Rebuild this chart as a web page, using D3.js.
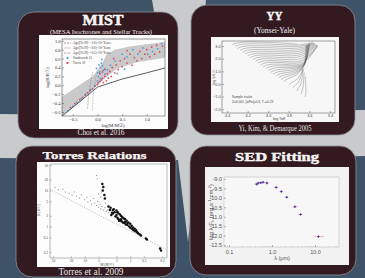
<!DOCTYPE html>
<html>
<head>
<meta charset="utf-8">
<script src="https://cdn.jsdelivr.net/npm/d3@7"></script>
<style>
  html, body { margin: 0; padding: 0; background: #3e5367; }
  svg { display: block; }
</style>
</head>
<body>
<script>
// ---- MIST (Choi et al. 2016) ----
var mistXTicks = [-0.5, 0.0, 0.5, 1.0];
var mistYTicks = [-0.6, -0.4, -0.2, 0.0, 0.2, 0.4, 0.6, 0.8, 1.0];
var mistBand = [[-0.72,-0.26],[-0.4,-0.02],[-0.1,0.2],[0.0,0.34],[0.1,0.5],[0.18,0.68],[0.35,0.8],[0.65,0.87],[1.0,0.92],[1.37,0.97],
                [1.37,0.62],[0.8,0.52],[0.4,0.38],[0.15,0.16],[-0.05,-0.05],[-0.4,-0.42],[-0.72,-0.69]];
var mistZams = [[-0.72,-0.69],[-0.35,-0.36],[0.0,-0.04],[0.5,0.14],[1.0,0.28],[1.37,0.39]];
var mistIso = [
  [[-0.2,-0.52],[-0.18,-0.2],[-0.14,0.05],[-0.1,0.3]],
  [[-0.1,-0.56],[-0.09,-0.25],[-0.06,0.0],[-0.03,0.22]]
];
var mistSouthworth = [[-0.6,-0.57],[-0.5,-0.47],[-0.42,-0.38],[-0.33,-0.3],[-0.24,-0.2],[-0.14,-0.1],[-0.06,0.0],[0.0,0.1],
  [0.02,0.2],[0.04,0.3],[0.06,0.4],[0.08,0.5],[0.1,0.44],[0.03,0.46],[0.12,0.34],[0.0,0.28],[0.06,0.15],[0.15,0.25],
  [0.2,0.35],[0.26,0.45],[0.36,0.55],[0.5,0.7],[0.6,0.64],[0.72,0.8],[0.82,0.7],[0.92,0.84],[1.02,0.7],[1.12,0.76],
  [1.22,0.82],[1.3,0.94],[0.4,0.26],[0.55,0.36],[-0.02,0.38],[0.09,0.58]];
var mistTorres = [[-0.55,-0.5],[-0.46,-0.41],[-0.36,-0.32],[-0.3,-0.27],[-0.25,-0.22],[-0.2,-0.17],[-0.15,-0.12],[-0.1,-0.08],
  [-0.05,-0.02],[0.0,0.02],[0.02,0.06],[0.05,0.09],[0.08,0.12],[0.1,0.16],[0.12,0.06],[0.15,0.2],[0.18,0.1],[0.2,0.26],
  [0.22,0.16],[0.25,0.31],[0.28,0.2],[0.3,0.4],[0.35,0.28],[0.38,0.46],[0.42,0.35],[0.46,0.55],[0.5,0.42],[0.55,0.6],
  [0.6,0.5],[0.66,0.7],[0.7,0.45],[0.75,0.62],[0.8,0.55],[0.86,0.76],[0.9,0.6],[0.96,0.7],[1.0,0.8],[1.06,0.64],
  [1.1,0.86],[1.16,0.7],[1.2,0.9],[1.26,0.75],[1.32,0.88],[0.15,0.36],[0.05,0.26],[0.1,0.3],[0.33,0.6],[0.6,0.78]];
var mistLegend = ["Age([Fe/H]=\u22121.0)=10\u2079 Years", "Age([Fe/H]=+0.0)=10\u2079 Years", "Age([Fe/H]=+0.5)=10\u2079 Years", "Southworth 15", "Torres 10"];

// ---- YY (Yi, Kim & Demarque) ----
var yyXTicks = [4.4, 4.2, 4.0, 3.8, 3.6, 3.4];
var yyYTicks = [-2, -1, 0, 1, 2, 3];
var yyTracks = [
  [[4.35,3.10],[4.29,3.35],[3.95,3.30],[3.72,3.15]],
  [[4.325,2.955],[4.265,3.21],[3.94,3.15],[3.71,3.02],[3.57,3.28]],
  [[4.30,2.81],[4.24,3.06],[3.92,3.00],[3.70,2.90],[3.56,3.25]],
  [[4.275,2.665],[4.215,2.92],[3.91,2.85],[3.695,2.75],[3.555,3.22]],
  [[4.25,2.52],[4.19,2.77],[3.90,2.70],[3.69,2.60],[3.55,3.20]],
  [[4.225,2.375],[4.165,2.63],[3.89,2.55],[3.685,2.45],[3.545,3.17]],
  [[4.20,2.23],[4.14,2.48],[3.88,2.40],[3.68,2.30],[3.54,3.15]],
  [[4.175,2.085],[4.115,2.34],[3.87,2.25],[3.675,2.15],[3.535,3.12]],
  [[4.15,1.94],[4.09,2.19],[3.86,2.10],[3.67,2.00],[3.53,3.10]],
  [[4.125,1.795],[4.065,2.05],[3.85,1.95],[3.665,1.82],[3.525,3.07]],
  [[4.10,1.65],[4.04,1.90],[3.84,1.80],[3.66,1.65],[3.52,3.05]],
  [[4.075,1.505],[4.015,1.76],[3.83,1.68],[3.655,1.52],[3.52,3.02]],
  [[4.05,1.36],[3.99,1.61],[3.82,1.55],[3.65,1.40],[3.52,3.00]],
  [[4.025,1.215],[3.965,1.47],[3.81,1.42],[3.65,1.38],[3.61,2.3],[3.595,3.2]],
  [[4.00,1.07],[3.94,1.32],[3.80,1.30],[3.65,1.35],[3.62,2.20],[3.60,3.20]],
  [[3.975,0.925],[3.92,1.17],[3.79,1.18],[3.65,1.32],[3.615,2.2],[3.605,3.17]],
  [[3.95,0.78],[3.90,1.02],[3.78,1.05],[3.65,1.30],[3.62,2.20],[3.61,3.15]],
  [[3.925,0.635],[3.875,0.88],[3.77,0.92],[3.645,1.3],[3.625,2.15],[3.615,3.12]],
  [[3.90,0.49],[3.85,0.74],[3.76,0.80],[3.64,1.30],[3.63,2.10],[3.62,3.10]],
  [[3.875,0.345],[3.83,0.6],[3.75,0.68],[3.645,1.3],[3.635,2.05],[3.625,3.07]],
  [[3.85,0.20],[3.81,0.45],[3.74,0.55],[3.65,1.30],[3.64,2.00],[3.63,3.05]],
  [[3.80,-0.09],[3.77,0.15],[3.72,0.30],[3.65,1.25]],
  [[3.76,-0.32],[3.74,-0.10],[3.70,0.10],[3.66,1.20]],
  [[3.72,-0.55],[3.71,-0.35],[3.68,-0.10],[3.66,1.10]],
  [[3.68,-0.79],[3.675,-0.60],[3.66,-0.40],[3.65,0.90]],
  [[3.64,-1.02],[3.635,-0.85],[3.63,-0.70],[3.64,0.60]]
];

// ---- Torres relations ----
var torresTicks = [50, 20, 10, 5, 2, 1, 0.5, 0.2];
var torresZams = [[58,10.7],[5,2.1],[1,0.76],[0.16,0.23]];
var torresBig = [[4.1,15],[3.9,12.5],[4.0,10],[3.7,7.5],[3.6,6.0],[3.0,3.6],[2.8,2.9],[2.7,3.3],[2.5,2.4],[2.4,2.9],
  [2.3,3.0],[2.2,2.5],[2.1,1.9],[2.0,2.8],[1.9,1.75],[1.85,2.4],[1.8,1.6],[1.7,2.2],[1.65,1.5],[1.6,2.0],[1.55,1.4],
  [1.5,1.85],[1.45,1.3],[1.4,1.7],[1.35,1.25],[1.3,1.6],[1.25,1.15],[1.2,1.45],[1.15,1.1],[1.1,1.3],[1.05,1.0],
  [1.0,1.2],[0.98,0.92],[0.93,1.05],[0.9,0.86],[0.87,0.95],[0.84,0.8],[0.8,0.88],[0.77,0.75],[0.74,0.8],[0.7,0.7],
  [0.67,0.66],[0.62,0.62],[0.58,0.57],[0.45,0.47],[0.43,0.44],[0.22,0.25],[0.21,0.22],[2.6,2.1],[1.75,1.45],
  [2.0,2.1],[1.6,1.6],[1.3,1.35],[2.4,2.3],[1.9,2.5],[1.15,1.25]];
var torresSmall = [[45,12],[38,10.5],[30,11],[27,9],[22,8.5],[19,7.5],[17,9],[15,7],[13,6.2],[12,7.5],[10,5.5],[9,6.5],
  [8.5,4.8],[7.5,5.2],[7,4.2],[6.5,6],[6,4.5],[5.5,3.8],[5.2,5],[5,3.4],[4.6,4.2],[4.4,3.1],[4.2,3.6],[3.9,2.9],
  [3.6,3.3],[3.4,2.6],[3.2,2.9],[5.5,26],[5.3,21],[5,8],[4.5,6.5],[4.3,9],[3.5,4.5],[3.0,2.4],[2.6,2.1]];

// ---- SED fitting ----
var sedXTicks = [0.1, 1, 10];
var sedYTicks = [-9.0, -9.5, -10.0, -10.5, -11.0, -11.5, -12.0, -12.5];
var sedWave   = [0.44, 0.48, 0.55, 0.62, 0.76, 1.25, 1.65, 2.2, 3.4, 4.6, 12];
var sedWaveLo = [0.39, 0.41, 0.50, 0.56, 0.70, 1.10, 1.50, 2.0, 3.0, 4.1, 9.6];
var sedWaveHi = [0.49, 0.55, 0.60, 0.69, 0.83, 1.40, 1.80, 2.4, 3.9, 5.2, 16];
var sedFlux   = [-9.28, -9.22, -9.20, -9.18, -9.22, -9.45, -9.67, -9.97, -10.47, -10.88, -12.05];

var W = 365, H = 278;
var svg = d3.select("body").append("svg").attr("width", W).attr("height", H);
var defs = svg.append("defs");

// background: slate with a light grey cross behind the panels
svg.append("rect").attr("width", W).attr("height", H).attr("fill", "#3e5367");
svg.append("path")
  .attr("d", "M152,0 L206,0 L196,112 L365,110 L365,156 L196,160 L188,242 L178,160 L0,158 L0,114 L172,116 Z")
  .attr("fill", "#c9cacc");

// panels
var panels = [[18, 12, 160, 126], [191, 5, 164, 130], [16, 146, 160, 131], [190, 146, 166, 129]];
svg.selectAll("rect.panel").data(panels).join("rect")
  .attr("class", "panel")
  .attr("x", d => d[0]).attr("y", d => d[1])
  .attr("width", d => d[2]).attr("height", d => d[3])
  .attr("rx", 16)
  .attr("fill", "#321a20")
  .attr("stroke", "#8e9299")
  .attr("stroke-width", 0.8);

function txt(g, s, x, y, size, o) {
  o = o || {};
  var t = g.append("text").attr("x", x).attr("y", y).text(s)
    .attr("font-size", size)
    .attr("font-family", o.family || "Liberation Serif")
    .attr("font-weight", o.weight || "normal")
    .attr("fill", o.fill || "#f2f2f2")
    .attr("text-anchor", o.anchor || "middle");
  if (o.len) t.attr("textLength", o.len).attr("lengthAdjust", "spacingAndGlyphs");
  if (o.stroke) t.attr("stroke", o.fill || "#fff").attr("stroke-width", o.stroke);
  if (o.rotate) t.attr("transform", "rotate(-90," + x + "," + y + ")");
  return t;
}

function styleAxis(g, size, family, color) {
  g.select(".domain").remove();
  g.selectAll("line").attr("stroke", color).attr("stroke-width", 0.4);
  g.selectAll("text").attr("font-size", size).attr("font-family", family).attr("fill", color);
}

function clip(id, x, y, w, h) {
  defs.append("clipPath").attr("id", id).append("rect").attr("x", x).attr("y", y).attr("width", w).attr("height", h);
  return "url(#" + id + ")";
}

// ================= MIST =================
txt(svg, "MIST", 103, 25, 15.5, {weight: "bold", stroke: 0.5, len: 41});
txt(svg, "(MESA Isochrones and Stellar Tracks)", 101, 34, 6, {len: 102});
txt(svg, "Choi et al. 2016", 101, 135, 8, {len: 47, fill: "#e6e6e6"});

var m = svg.append("g");
m.append("rect").attr("x", 39).attr("y", 35).attr("width", 129).attr("height", 94).attr("fill", "#fcfcfc");
var mx = d3.scaleLinear().domain([-0.72, 1.37]).range([62, 165]);
var my = d3.scaleLinear().domain([-0.69, 1.04]).range([116, 39]);
var mLine = d3.line().x(d => mx(d[0])).y(d => my(d[1]));
var mPlot = m.append("g").attr("clip-path", clip("clipM", 62, 39, 103, 77));
mPlot.append("path").attr("d", mLine(mistBand) + "Z").attr("fill", "#c9c9c9");
mistIso.forEach(function(iso, i) {
  mPlot.append("path").attr("d", mLine(iso)).attr("fill", "none")
    .attr("stroke", "#777").attr("stroke-width", 0.5).attr("stroke-dasharray", i ? "1,1" : "2,1");
});
mPlot.append("path").attr("d", mLine(mistZams)).attr("fill", "none").attr("stroke", "#1a1a1a").attr("stroke-width", 0.7);
mPlot.selectAll("circle.r").data(mistTorres).join("circle").attr("class", "r")
  .attr("cx", d => mx(d[0])).attr("cy", d => my(d[1])).attr("r", 0.9)
  .attr("fill", "#d8334b").attr("fill-opacity", 0.85);
mPlot.selectAll("circle.b").data(mistSouthworth).join("circle").attr("class", "b")
  .attr("cx", d => mx(d[0])).attr("cy", d => my(d[1])).attr("r", 0.9)
  .attr("fill", "#3d93dd").attr("fill-opacity", 0.85);
m.append("rect").attr("x", 62).attr("y", 39).attr("width", 103).attr("height", 77)
  .attr("fill", "none").attr("stroke", "#333").attr("stroke-width", 0.5);
var mxa = m.append("g").attr("transform", "translate(0,116)")
  .call(d3.axisBottom(mx).tickValues(mistXTicks).tickSizeInner(-2).tickSizeOuter(0).tickPadding(2).tickFormat(d3.format(".1f")));
styleAxis(mxa, 4.5, "Liberation Serif", "#333");
var mya = m.append("g").attr("transform", "translate(62,0)")
  .call(d3.axisLeft(my).tickValues(mistYTicks).tickSizeInner(-2).tickSizeOuter(0).tickPadding(1.5).tickFormat(d3.format(".1f")));
styleAxis(mya, 4.5, "Liberation Serif", "#333");
txt(m, "log(M/M\u2609)", 113, 127, 4.8, {fill: "#333"});
txt(m, "log(R/R\u2609)", 49, 78, 4.8, {fill: "#333", rotate: true});
// legend
var legDash = ["2,1", null, "2,0.8,0.6,0.8"];
mistLegend.forEach(function(s, i) {
  var ly = 43 + i * 5;
  if (i < 3) {
    m.append("line").attr("x1", 64).attr("x2", 71).attr("y1", ly).attr("y2", ly)
      .attr("stroke", i == 1 ? "#999" : "#444").attr("stroke-width", 0.5).attr("stroke-dasharray", legDash[i]);
  } else {
    m.append("circle").attr("cx", 67.5).attr("cy", ly).attr("r", 1.1).attr("fill", i == 3 ? "#3d93dd" : "#d8334b");
  }
  txt(m, s, 73, ly + 1.2, 3.2, {anchor: "start", fill: "#333"});
});

// ================= YY =================
txt(svg, "YY", 274.5, 20, 11.5, {weight: "bold", stroke: 0.4, len: 16});
txt(svg, "(Yonsei-Yale)", 274.5, 32.5, 7.5, {len: 41});
txt(svg, "Yi, Kim, & Demarque 2005", 275, 131, 8, {len: 73, fill: "#e6e6e6"});

var y = svg.append("g");
y.append("rect").attr("x", 211).attr("y", 37).attr("width", 128).attr("height", 85).attr("fill", "#f7f7f7");
var yx = d3.scaleLinear().domain([4.45, 3.35]).range([222, 335]);
var yy = d3.scaleLinear().domain([-2.3, 3.4]).range([113, 41]);
var yPlot = y.append("g").attr("clip-path", clip("clipY", 222, 41, 113, 72));
yPlot.selectAll("path.trk").data(yyTracks).join("path").attr("class", "trk")
  .attr("d", d => d3.line().x(p => yx(p[0])).y(p => yy(p[1])).curve(d3.curveBasis)(d))
  .attr("fill", "none").attr("stroke", "#555").attr("stroke-width", 0.4).attr("stroke-opacity", 0.85);
y.append("rect").attr("x", 222).attr("y", 41).attr("width", 113).attr("height", 72)
  .attr("fill", "none").attr("stroke", "#444").attr("stroke-width", 0.5);
var yxa = y.append("g").attr("transform", "translate(0,113)")
  .call(d3.axisBottom(yx).tickValues(yyXTicks).tickSizeInner(-2).tickSizeOuter(0).tickPadding(1.5).tickFormat(d3.format(".1f")));
styleAxis(yxa, 3.8, "Liberation Sans", "#444");
var yya = y.append("g").attr("transform", "translate(222,0)")
  .call(d3.axisLeft(yy).tickValues(yyYTicks).tickSizeInner(-2).tickSizeOuter(0).tickPadding(1.5));
styleAxis(yya, 3.8, "Liberation Sans", "#444");
txt(y, "log Teff", 279, 120, 3.8, {fill: "#444", family: "Liberation Sans"});
txt(y, "log L/L\u2609", 215, 77, 3.8, {fill: "#444", family: "Liberation Sans", rotate: true});
txt(y, "Sample tracks", 232, 98, 3.2, {anchor: "start", fill: "#444", family: "Liberation Sans"});
txt(y, "Z=0.001, [\u03b1/Fe]=0.3, Y\u2080=0.23", 232, 102.5, 3.2, {anchor: "start", fill: "#444", family: "Liberation Sans"});

// ================= Torres =================
txt(svg, "Torres Relations", 94.5, 159, 11, {weight: "bold", stroke: 0.25, len: 104});
txt(svg, "Torres et al. 2009", 91, 274.5, 9.5, {len: 65, fill: "#e6e6e6"});

var t = svg.append("g");
t.append("rect").attr("x", 37).attr("y", 162).attr("width", 133).attr("height", 105).attr("fill", "#fdfdfd");
var tx = d3.scaleLog().domain([58, 0.155]).range([50, 167]);
var ty = d3.scaleLog().domain([53.6, 0.136]).range([164, 258]);
var tPlot = t.append("g").attr("clip-path", clip("clipT", 50, 164, 117, 94));
tPlot.append("path").attr("d", d3.line().x(d => tx(d[0])).y(d => ty(d[1]))(torresZams))
  .attr("fill", "none").attr("stroke", "#777").attr("stroke-width", 0.45).attr("stroke-dasharray", "1.2,1.2");
tPlot.selectAll("circle.s").data(torresSmall).join("circle").attr("class", "s")
  .attr("cx", d => tx(d[0])).attr("cy", d => ty(d[1])).attr("r", 0.5).attr("fill", "#666");
tPlot.selectAll("circle.k").data(torresBig).join("circle").attr("class", "k")
  .attr("cx", d => tx(d[0])).attr("cy", d => ty(d[1])).attr("r", 1.25).attr("fill", "#111");
t.append("rect").attr("x", 50).attr("y", 164).attr("width", 117).attr("height", 94)
  .attr("fill", "none").attr("stroke", "#555").attr("stroke-width", 0.4);
var txa = t.append("g").attr("transform", "translate(0,258)")
  .call(d3.axisBottom(tx).tickValues(torresTicks).tickSizeInner(-1.5).tickSizeOuter(0).tickPadding(1.5).tickFormat(d => d));
styleAxis(txa, 3.6, "Liberation Serif", "#444");
var tya = t.append("g").attr("transform", "translate(50,0)")
  .call(d3.axisLeft(ty).tickValues(torresTicks).tickSizeInner(-1.5).tickSizeOuter(0).tickPadding(2).tickFormat(d => d));
styleAxis(tya, 3.6, "Liberation Serif", "#444");
txt(t, "M (M\u2609)", 107, 266, 3.6, {fill: "#444"});
txt(t, "R (R\u2609)", 39.5, 210, 3.6, {fill: "#444", rotate: true});

// ================= SED =================
txt(svg, "SED Fitting", 277, 161, 13.5, {weight: "bold", stroke: 0.4, len: 84});

var s = svg.append("g");
s.append("rect").attr("x", 205).attr("y", 167).attr("width", 144).attr("height", 98).attr("fill", "#f2f2f2");
var sx = d3.scaleLog().domain([0.0765, 36.1]).range([224, 339]);
var sy = d3.scaleLinear().domain([-12.6, -8.9]).range([247, 177]);
s.append("rect").attr("x", 224).attr("y", 177).attr("width", 115).attr("height", 70)
  .attr("fill", "#f7f7f7").attr("stroke", "#b5b5b5").attr("stroke-width", 0.5);
var sxm = s.append("g").attr("transform", "translate(0,247)")
  .call(d3.axisBottom(sx).tickValues(sx.ticks()).tickSizeInner(-1).tickSizeOuter(0).tickFormat(""));
styleAxis(sxm, 5, "Liberation Sans", "#999");
var sxa = s.append("g").attr("transform", "translate(0,247)")
  .call(d3.axisBottom(sx).tickValues(sedXTicks).tickSizeInner(-2).tickSizeOuter(0).tickPadding(3).tickFormat(d3.format(".1f")));
styleAxis(sxa, 5.5, "Liberation Sans", "#555");
var sya = s.append("g").attr("transform", "translate(224,0)")
  .call(d3.axisLeft(sy).tickValues(sedYTicks).tickSizeInner(-2).tickSizeOuter(0).tickPadding(2).tickFormat(d3.format(".1f")));
styleAxis(sya, 5.5, "Liberation Sans", "#555");
sya.selectAll("text").text(d => d3.format(".1f")(d).replace("\u2212", "-"));
var sedIdx = d3.range(sedWave.length);
s.selectAll("line.err").data(sedIdx).join("line").attr("class", "err")
  .attr("x1", i => sx(sedWaveLo[i])).attr("x2", i => sx(sedWaveHi[i]))
  .attr("y1", i => sy(sedFlux[i])).attr("y2", i => sy(sedFlux[i]))
  .attr("stroke", "#f4a6bd").attr("stroke-width", 0.9);
s.selectAll("path.pt").data(sedIdx).join("path").attr("class", "pt")
  .attr("d", i => { var px = sx(sedWave[i]), py = sy(sedFlux[i]);
    return "M" + (px - 1.3) + "," + py + "H" + (px + 1.3) + "M" + px + "," + (py - 1.3) + "V" + (py + 1.3); })
  .attr("stroke", "#5b3a9e").attr("stroke-width", 0.8);
s.selectAll("circle.pt").data(sedIdx).join("circle").attr("class", "pt")
  .attr("cx", i => sx(sedWave[i])).attr("cy", i => sy(sedFlux[i])).attr("r", 0.7).attr("fill", "#3d3a9e");
txt(s, "\u03bb (\u03bcm)", 282, 259.5, 5.5, {fill: "#555", family: "Liberation Sans"});
var yl = txt(s, "", 213, 212, 6, {fill: "#555", family: "Liberation Sans", rotate: true});
yl.append("tspan").text("log \u03bb F");
yl.append("tspan").attr("font-size", 4.2).attr("dy", 1).text("\u03bb");
yl.append("tspan").attr("dy", -1).text(" (erg s");
yl.append("tspan").attr("font-size", 4.2).attr("dy", -2).text("-1");
yl.append("tspan").attr("dy", 2).text(" cm");
yl.append("tspan").attr("font-size", 4.2).attr("dy", -2).text("-2");
yl.append("tspan").attr("dy", 2).text(")");
</script>
</body>
</html>
